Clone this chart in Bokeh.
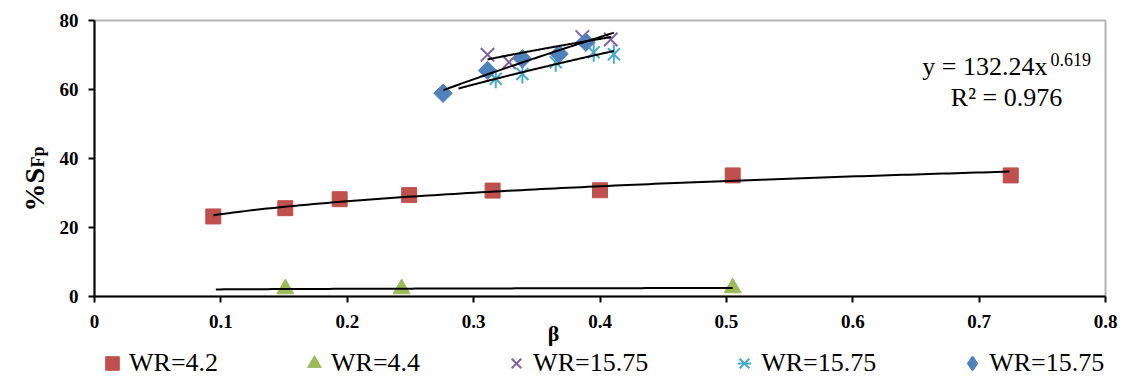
import numpy as np
from bokeh.plotting import figure
from bokeh.models import (Range1d, FixedTicker, Label, Legend, LegendItem, LinearAxis,
                          BoxAnnotation)
from bokeh.embed import file_html
from bokeh.resources import INLINE

# ---------------- data ----------------
x_ticks = [0, 0.1, 0.2, 0.3, 0.4, 0.5, 0.6, 0.7, 0.8]
x_tick_labels = ["0", "0.1", "0.2", "0.3", "0.4", "0.5", "0.6", "0.7", "0.8"]
y_ticks = [0, 20, 40, 60, 80]

wr42_x = [0.094, 0.151, 0.194, 0.249, 0.315, 0.400, 0.505, 0.725]
wr42_y = [23.2, 25.6, 28.2, 29.4, 30.7, 30.8, 35.1, 35.1]

wr44_x = [0.151, 0.243, 0.505]
wr44_y = [2.2, 2.2, 2.5]

wr1575a_x = [0.311, 0.328, 0.386, 0.4085]
wr1575a_y = [70.1, 67.9, 75.2, 74.5]

wr1575b_x = [0.3175, 0.3386, 0.365, 0.395, 0.411]
wr1575b_y = [63.1, 64.5, 67.9, 70.8, 70.2]

wr1575c_x = [0.2758, 0.311, 0.3386, 0.3676, 0.3888]
wr1575c_y = [58.9, 65.5, 68.9, 70.3, 73.7]

# x-extent of each power trendline
trend_range_42 = [0.094, 0.724]
trend_range_44 = [0.096, 0.505]
trend_range_a = [0.311, 0.409]
trend_range_b = [0.288, 0.411]
trend_range_c = [0.276, 0.411]

legend_labels = ["WR=4.2", "WR=4.4", "WR=15.75", "WR=15.75", "WR=15.75"]
x_title = "\u03b2"
y_title_main = "%S"
y_title_sub = "Fp"
equation_main = "y = 132.24x"
equation_exp = "0.619"
r2_text = "R\u00b2 = 0.976"

X_MIN, X_MAX = 0.0, 0.8
Y_MIN, Y_MAX = 0.0, 80.0

RED = "#C0504D"
GREEN = "#9BBB59"
PURPLE = "#8064A2"
CYAN = "#4BACC6"
BLUE = "#4F81BD"
SERIF = "Liberation Serif"

# ---------------- canvas geometry (pixels) ----------------
W, H = 1126, 379
PL, PR, PT, PB = 94, 1105, 20, 296          # plot-area edges
sx = (PR - PL) / (X_MAX - X_MIN)
sy = (PB - PT) / (Y_MAX - Y_MIN)
x_range = Range1d(X_MIN - PL / sx, X_MAX + (W - PR) / sx)
y_range = Range1d(Y_MIN - (H - PB) / sy, Y_MAX + PT / sy)


def px_to_x(px):
    return X_MIN + (px - PL) / sx


def px_to_y(py):
    return Y_MIN + (PB - py) / sy


def power_trend(xs, ys, rng):
    b, lna = np.polyfit(np.log(xs), np.log(ys), 1)
    xx = np.linspace(rng[0], rng[1], 120)
    return xx, np.exp(lna) * xx ** b


p = figure(width=W, height=H, output_backend="svg", toolbar_location=None,
           x_range=x_range, y_range=y_range, x_axis_type=None, y_axis_type=None,
           min_border=0)
p.background_fill_color = "white"
p.border_fill_color = "white"
p.outline_line_color = None

xa = LinearAxis(fixed_location=0, bounds=(X_MIN, X_MAX), ticker=FixedTicker(ticks=x_ticks),
                major_label_overrides={t: l for t, l in zip(x_ticks, x_tick_labels)})
ya = LinearAxis(fixed_location=0, bounds=(Y_MIN, Y_MAX), ticker=FixedTicker(ticks=y_ticks),
                major_label_overrides={t: str(t) for t in y_ticks})
for ax in (xa, ya):
    ax.axis_line_width = 2
    ax.axis_line_color = "black"
    ax.major_tick_line_width = 2
    ax.major_tick_line_color = "black"
    ax.major_tick_in = 0
    ax.major_tick_out = 6
    ax.minor_tick_line_color = None
    ax.major_label_text_font = SERIF
    ax.major_label_text_font_style = "bold"
    ax.major_label_text_font_size = "19px"
    ax.major_label_text_color = "black"
xa.major_label_standoff = 12
ya.major_label_standoff = 10
p.add_layout(xa, "below")
p.add_layout(ya, "left")

# plot-area border
p.add_layout(BoxAnnotation(left=X_MIN, right=X_MAX, bottom=Y_MIN, top=Y_MAX,
                           fill_color=None, line_color="black", line_width=2))

# markers
r42 = p.scatter(wr42_x, wr42_y, marker="square", size=15, fill_color=RED, line_color=RED)
r44 = p.scatter(wr44_x, wr44_y, marker="triangle", size=17, fill_color=GREEN, line_color=GREEN)
ra = p.scatter(wr1575a_x, wr1575a_y, marker="x", size=19, line_color=PURPLE, line_width=2)
rb1 = p.scatter(wr1575b_x, wr1575b_y, marker="x", size=17, line_color=CYAN, line_width=2)
rb2 = p.scatter(wr1575b_x, wr1575b_y, marker="dash", angle=np.pi / 2, size=19,
                line_color=CYAN, line_width=2)
# diamond-shaped key (hidden beneath the rotated squares; used for the legend entry,
# because legend keys are drawn unrotated)
rc_key = p.scatter(wr1575c_x, wr1575c_y, marker="diamond", size=13, fill_color=BLUE,
                   line_color=BLUE, line_width=2)
rc = p.scatter(wr1575c_x, wr1575c_y, marker="square", angle=np.pi / 4, size=13,
               fill_color=BLUE, line_color=BLUE)

# trendlines
for xs, ys, rng in [(wr42_x, wr42_y, trend_range_42), (wr44_x, wr44_y, trend_range_44),
                    (wr1575a_x, wr1575a_y, trend_range_a), (wr1575b_x, wr1575b_y, trend_range_b),
                    (wr1575c_x, wr1575c_y, trend_range_c)]:
    tx, ty = power_trend(xs, ys, rng)
    p.line(tx, ty, line_color="black", line_width=2)

# equation annotations
p.add_layout(Label(x=px_to_x(1047), y=px_to_y(66), text=equation_main, text_font=SERIF,
                   text_font_size="26px", text_align="right", text_baseline="alphabetic",
                   text_color="black"))
p.add_layout(Label(x=px_to_x(1050), y=px_to_y(59), text=equation_exp, text_font=SERIF,
                   text_font_size="18px", text_align="left", text_baseline="alphabetic",
                   text_color="black"))
p.add_layout(Label(x=px_to_x(1006), y=px_to_y(96.5), text=r2_text, text_font=SERIF,
                   text_font_size="26px", text_align="center", text_baseline="alphabetic",
                   text_color="black"))

# axis titles
p.add_layout(Label(x=px_to_x(553), y=px_to_y(333), text=x_title, text_font=SERIF,
                   text_font_size="22px", text_font_style="bold", text_align="center",
                   text_baseline="middle", text_color="black"))
p.add_layout(Label(x=px_to_x(34), y=px_to_y(211), text=y_title_main, angle=np.pi / 2,
                   text_font=SERIF, text_font_size="28px", text_font_style="bold",
                   text_align="left", text_baseline="alphabetic", text_color="black"))
p.add_layout(Label(x=px_to_x(37), y=px_to_y(167), text=y_title_sub, angle=np.pi / 2,
                   text_font=SERIF, text_font_size="18px", text_font_style="bold",
                   text_align="left", text_baseline="alphabetic", text_color="black"))

legend = Legend(items=[
    LegendItem(label=legend_labels[0], renderers=[r42]),
    LegendItem(label=legend_labels[1], renderers=[r44]),
    LegendItem(label=legend_labels[2], renderers=[ra]),
    LegendItem(label=legend_labels[3], renderers=[rb1, rb2]),
    LegendItem(label=legend_labels[4], renderers=[rc_key]),
], orientation="horizontal", location=(95, -1),
    glyph_width=34, glyph_height=34, label_standoff=0, spacing=79,
    label_text_font=SERIF, label_text_font_size="26px", label_text_color="black",
    padding=0, margin=0, border_line_color=None, background_fill_alpha=0)
p.add_layout(legend, "center")

open("out.html", "w").write(file_html(p, INLINE))
